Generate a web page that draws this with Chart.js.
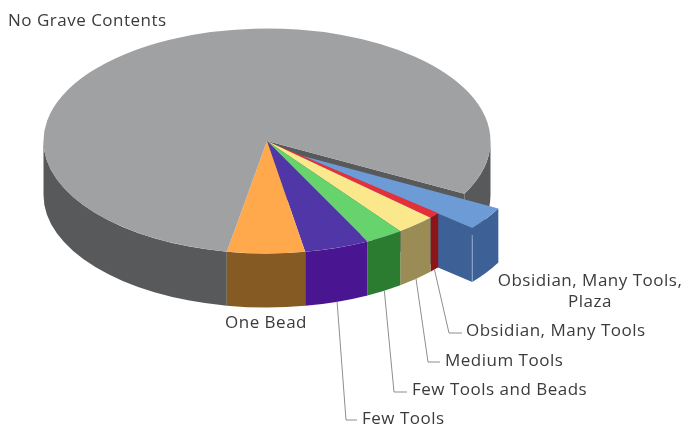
<!DOCTYPE html>
<html><head><meta charset="utf-8">
<style>html,body{margin:0;padding:0;background:#fff}canvas{display:block}</style>
<script src="https://cdn.jsdelivr.net/npm/chart.js@4"></script>
</head><body><canvas id="c" width="686" height="427"></canvas>
<script>
const categories = ['Obsidian, Many Tools, Plaza','Obsidian, Many Tools','Medium Tools','Few Tools and Beads','Few Tools','One Bead','No Grave Contents'];
const values = [3.33,0.83,2.89,2.75,4.69,5.61,79.9];
const topColors = ['#6c9bd5','#e5303a','#fbe88c','#67d36c','#5036a6','#ffa94c','#a0a1a3'];
const wallColors = ['#3d6197','#8c1519','#9b8c55','#2b7c30','#4a1590','#865b23','#58595b'];
const radiusPx = 223.5, squash = 0.5034, depthPx = 54, explodeX = 34, explodeY = 29;
const FONT = '17px "Open Sans"', TRACK = '0.5px', INK = '#3b3b3d', LEAD = '#8e8e8e';
const labelBoxes = [
  {lines:['Obsidian, Many Tools,','Plaza'],x:590,y:281,align:'center'},
  {lines:['Obsidian, Many Tools'],x:466,y:331,align:'left',elbow:[449,333,462]},
  {lines:['Medium Tools'],x:445,y:361,align:'left',elbow:[428,362,440]},
  {lines:['Few Tools and Beads'],x:412,y:390,align:'left',elbow:[394,392,407]},
  {lines:['Few Tools'],x:362,y:419,align:'left',elbow:[346,420,357]},
  {lines:['One Bead'],x:266,y:323,align:'center'},
  {lines:['No Grave Contents'],x:8,y:21,align:'left'}
];
const pie3d = {
  id:'pie3d',
  afterDatasetsUpdate(chart){
    const a = chart.getDatasetMeta(0).data[0];
    a.x += explodeX; a.y += explodeY;
  },
  beforeDatasetsDraw(chart){
    const ctx = chart.ctx, arcs = chart.getDatasetMeta(0).data, d = depthPx/squash;
    const c = arcs[1];
    ctx.save();
    ctx.translate(c.x,c.y); ctx.scale(1,squash); ctx.translate(-c.x,-c.y);
    const face = (a,ang,col)=>{
      const rx=a.x+Math.cos(ang)*a.outerRadius, ry=a.y+Math.sin(ang)*a.outerRadius;
      ctx.fillStyle=col; ctx.beginPath();
      ctx.moveTo(a.x,a.y); ctx.lineTo(rx,ry); ctx.lineTo(rx,ry+d); ctx.lineTo(a.x,a.y+d); ctx.closePath(); ctx.fill();
    };
    const strip = (a,s,e,col)=>{
      if(e<=s) return;
      ctx.fillStyle=col; ctx.beginPath();
      ctx.arc(a.x,a.y,a.outerRadius,s,e);
      ctx.arc(a.x,a.y+d,a.outerRadius,e,s,true);
      ctx.closePath(); ctx.fill();
    };
    // only the front half of the rim (0..PI, and again one turn on) shows as a wall
    const band = (a,col)=>{
      const T=Math.PI*2;
      [0,T].forEach(o=>strip(a,Math.max(a.startAngle,o),Math.min(a.endAngle,o+Math.PI),col));
    };
    const order=[6,0,1,2,3,4,5];
    face(arcs[6],arcs[6].endAngle,wallColors[6]);
    band(arcs[6],wallColors[6]);
    face(arcs[0],arcs[0].endAngle,wallColors[0]);
    band(arcs[0],wallColors[0]);
    const e=arcs[0], ex=e.x+Math.cos(e.endAngle)*e.outerRadius, ey=e.y+Math.sin(e.endAngle)*e.outerRadius;
    ctx.strokeStyle='#a9c0de'; ctx.lineWidth=1; ctx.beginPath(); ctx.moveTo(ex,ey+14); ctx.lineTo(ex,ey+d); ctx.stroke();
    order.slice(2).forEach(i=>band(arcs[i],wallColors[i]));
  },
  afterDatasetsDraw(chart){ chart.ctx.restore(); },
  afterDraw(chart){
    const ctx = chart.ctx, arcs = chart.getDatasetMeta(0).data;
    ctx.save();
    ctx.strokeStyle=LEAD; ctx.lineWidth=1;
    labelBoxes.forEach((b,i)=>{
      if(!b.elbow) return;
      const a=arcs[i], m=(a.startAngle+a.endAngle)/2;
      const sx=a.x+Math.cos(m)*a.outerRadius, sy=a.y+Math.sin(m)*a.outerRadius*squash+depthPx;
      ctx.beginPath(); ctx.moveTo(sx,sy); ctx.lineTo(b.elbow[0],b.elbow[1]); ctx.lineTo(b.elbow[2],b.elbow[1]); ctx.stroke();
    });
    ctx.fillStyle=INK; ctx.font=FONT; ctx.letterSpacing=TRACK; ctx.textBaseline='middle';
    labelBoxes.forEach(b=>{
      ctx.textAlign=b.align;
      b.lines.forEach((t,j)=>ctx.fillText(t,b.x,b.y+j*21));
    });
    ctx.restore();
  }
};
new Chart(document.getElementById('c'),{
  type:'pie',
  data:{labels:categories,datasets:[{data:values,backgroundColor:topColors,borderWidth:0,radius:radiusPx,clip:false}]},
  options:{
    responsive:false,animation:false,rotation:118,
    layout:{padding:{left:0,right:152,top:0,bottom:145}},
    plugins:{legend:{display:false},tooltip:{enabled:false}},
    events:[]
  },
  plugins:[pie3d]
});
</script></body></html>
